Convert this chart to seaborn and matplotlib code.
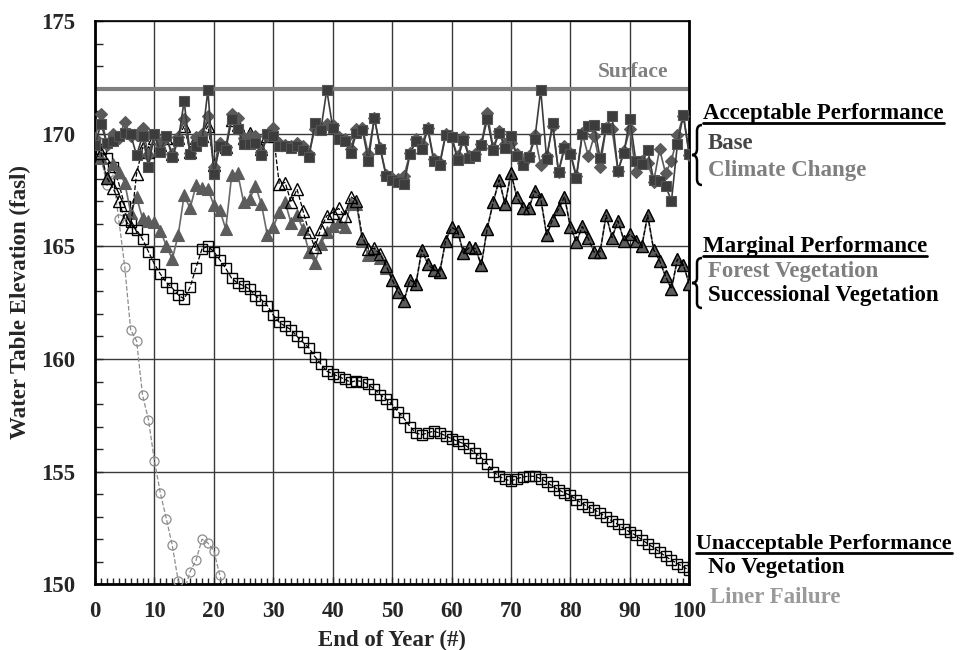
import matplotlib
matplotlib.use("Agg")
import matplotlib.pyplot as plt
import seaborn as sns
from matplotlib.ticker import MultipleLocator
from matplotlib.path import Path
from matplotlib.patches import PathPatch
from matplotlib.lines import Line2D

# ---------------------------------------------------------
# Data
# ---------------------------------------------------------
years = list(range(0, 101))
liner_years = list(range(0, 23))
surface_level = 172.0

base = [169.50, 170.42, 169.60, 169.68, 169.90, 170.05, 169.97, 169.04, 169.90, 168.54,
        169.97, 169.19, 169.90, 168.98, 169.68, 171.45, 169.09, 169.46, 169.68, 171.94,
        168.20, 169.46, 169.28, 170.64, 170.20, 169.53, 169.53, 169.60, 169.04, 169.97,
        169.90, 169.46, 169.46, 169.38, 169.46, 169.28, 168.98, 170.46, 170.17, 171.94,
        170.27, 169.75, 169.68, 169.13, 170.05, 170.17, 168.79, 170.71, 169.31, 168.10,
        167.95, 167.86, 167.76, 169.09, 169.68, 169.31, 170.20, 168.79, 168.60, 169.93,
        169.87, 168.84, 169.72, 168.90, 169.01, 169.49, 170.64, 169.28, 170.05, 169.36,
        169.90, 169.01, 168.60, 168.98, 169.75, 171.94, 168.87, 170.46, 168.30, 169.35,
        169.09, 168.05, 169.97, 170.34, 170.37, 168.90, 170.27, 170.79, 168.35, 169.16,
        170.67, 168.79, 168.64, 169.28, 167.95, 167.91, 167.68, 167.02, 169.53, 170.82,
        169.09]

climate = [169.80, 170.86, 169.50, 169.97, 169.80, 170.52, 169.90, 169.95, 170.27, 169.04,
           169.93, 169.53, 169.83, 169.10, 169.83, 170.67, 169.12, 169.83, 169.97, 170.79,
           168.50, 169.60, 169.40, 170.86, 170.71, 169.80, 169.90, 169.90, 169.20, 169.90,
           170.27, 169.60, 169.50, 169.45, 169.60, 169.45, 169.09, 170.20, 170.20, 170.42,
           170.37, 169.83, 169.75, 169.31, 170.20, 170.27, 169.09, 170.71, 169.38, 168.16,
           168.05, 167.98, 168.13, 169.13, 169.75, 169.53, 170.27, 168.87, 168.69, 169.97,
           169.83, 169.01, 169.83, 169.01, 169.09, 169.53, 170.93, 169.38, 170.12, 169.53,
           169.60, 169.09, 168.72, 169.01, 169.93, 168.60, 169.01, 170.34, 168.30, 169.46,
           169.16, 168.13, 170.02, 169.01, 169.90, 168.54, 170.27, 170.20, 168.35, 169.23,
           170.20, 168.28, 168.79, 168.72, 167.86, 169.31, 168.25, 168.79, 169.93, 170.80,
           169.04]

forest = [169.70, 168.90, 168.05, 168.64, 168.28, 167.83, 166.50, 167.17, 166.24, 166.13,
          166.06, 165.69, 165.02, 164.43, 165.50, 167.27, 166.68, 167.71, 167.61, 167.54,
          166.83, 166.62, 165.76, 168.16, 168.25, 166.97, 167.09, 167.68, 166.87, 165.50,
          165.84, 166.53, 166.95, 166.03, 166.38, 165.76, 164.76, 164.26, 165.10, 165.65,
          165.91, 166.06, 165.84, 166.87, 166.87, 165.25, 164.60, 164.75, 164.50, 164.05,
          163.52, 162.99, 162.59, 163.52, 163.33, 164.85, 164.21, 163.96, 163.84, 165.25,
          165.84, 165.69, 164.70, 164.95, 164.91, 164.17, 165.79, 166.95, 167.95, 166.87,
          168.25, 167.17, 166.72, 166.68, 167.46, 167.12, 165.50, 166.18, 166.65, 167.21,
          165.84, 165.20, 165.88, 165.35, 164.73, 164.76, 166.38, 165.39, 166.13, 165.25,
          165.54, 165.25, 165.00, 166.38, 164.85, 164.36, 163.67, 163.10, 164.43, 164.17,
          163.33]

successional = [169.70, 169.16, 168.05, 167.60, 167.02, 166.20, 165.84, 168.23, 169.38, 169.20,
                169.80, 169.50, 169.80, 169.10, 169.80, 170.34, 169.20, 169.80, 169.90, 170.34,
                168.60, 169.50, 169.40, 170.60, 170.40, 169.80, 170.05, 169.80, 169.30, 169.90,
                170.05, 167.76, 167.83, 166.95, 167.54, 166.58, 165.62, 164.95, 165.79, 166.35,
                166.50, 166.68, 166.35, 167.21, 167.02, 165.39, 164.88, 164.91, 164.66, 164.14,
                163.52, 162.99, 162.59, 163.52, 163.33, 164.85, 164.21, 163.96, 163.84, 165.25,
                165.84, 165.69, 164.70, 164.95, 164.91, 164.17, 165.79, 166.95, 167.95, 166.87,
                168.25, 167.17, 166.72, 166.68, 167.46, 167.12, 165.50, 166.18, 166.65, 167.21,
                165.84, 165.20, 165.88, 165.35, 164.73, 164.76, 166.38, 165.39, 166.13, 165.25,
                165.54, 165.25, 165.00, 166.38, 164.85, 164.36, 163.67, 163.10, 164.43, 164.17,
                163.33]

no_vegetation = [169.60, 169.30, 168.94, 168.50, 167.80, 166.80, 166.06, 165.73, 165.32, 164.76,
                 164.21, 163.77, 163.40, 163.15, 162.85, 162.66, 163.18, 164.06, 164.88, 165.00,
                 164.76, 164.40, 164.02, 163.58, 163.37, 163.25, 163.10, 162.81, 162.63, 162.37,
                 161.95, 161.63, 161.45, 161.30, 161.00, 160.74, 160.49, 160.10, 159.78, 159.46,
                 159.34, 159.22, 159.10, 158.97, 159.04, 159.00, 158.87, 158.66, 158.42, 158.22,
                 157.98, 157.66, 157.36, 157.00, 156.71, 156.64, 156.72, 156.80, 156.71, 156.59,
                 156.46, 156.35, 156.24, 156.03, 155.82, 155.62, 155.35, 155.00, 154.79, 154.66,
                 154.58, 154.69, 154.76, 154.80, 154.79, 154.69, 154.54, 154.35, 154.20, 154.05,
                 153.95, 153.75, 153.58, 153.43, 153.31, 153.16, 152.99, 152.81, 152.66, 152.47,
                 152.32, 152.17, 151.98, 151.80, 151.63, 151.43, 151.24, 151.07, 150.92, 150.77,
                 150.62]

liner_failure = [169.70, 169.00, 167.70, 168.20, 166.20, 164.10, 161.30, 160.80, 158.40, 157.30,
                 155.48, 154.05, 152.91, 151.73, 150.15, 149.70, 150.56, 151.06, 152.00, 151.83,
                 151.48, 150.40, 149.60]

# ---------------------------------------------------------
# Style
# ---------------------------------------------------------
sns.set_theme(style="white")
plt.rcParams["font.family"] = ["Liberation Serif", "DejaVu Serif"]
plt.rcParams["font.weight"] = "bold"
FS = 16.5

W, H = 961, 650
fig = plt.figure(figsize=(W / 100, H / 100), dpi=100)
ax = fig.add_axes([95 / W, 1 - 584.3 / H, (689.3 - 95) / W, (584.3 - 21) / H])


def fx(x):
    return x / W


def fy(y):
    return 1 - y / H


# ---------------------------------------------------------
# Series
# ---------------------------------------------------------
common = dict(ax=ax, errorbar=None, legend=False)

sns.lineplot(x=liner_years, y=liner_failure, color="#8c8c8c", linestyle="--", linewidth=0.9,
             marker="o", markersize=6.5, markerfacecolor="none", markeredgecolor="#8c8c8c",
             markeredgewidth=0.9, zorder=3, **common)
sns.lineplot(x=years, y=no_vegetation, color="black", linestyle="--", linewidth=0.9,
             marker="s", markersize=7.5, markerfacecolor="none", markeredgecolor="black",
             markeredgewidth=1.0, zorder=4, **common)
sns.lineplot(x=years, y=forest, color="#6a6a6a", linestyle="-", linewidth=1.2,
             marker="^", markersize=8, markerfacecolor="#5c5c5c", markeredgecolor="#5c5c5c",
             markeredgewidth=0.8, zorder=5, **common)
sns.lineplot(x=years, y=successional, color="black", linestyle="--", linewidth=0.9,
             marker="^", markersize=8, markerfacecolor="none", markeredgecolor="black",
             markeredgewidth=1.0, zorder=6, **common)
sns.lineplot(x=years, y=climate, color="#5a5a5a", linestyle="-", linewidth=1.2,
             marker="D", markersize=6.5, markerfacecolor="#5a5a5a", markeredgecolor="#5a5a5a",
             markeredgewidth=0.8, zorder=7, **common)
sns.lineplot(x=years, y=base, color="#3c3c3c", linestyle="-", linewidth=1.2,
             marker="s", markersize=7.5, markerfacecolor="#3c3c3c", markeredgecolor="#555555",
             markeredgewidth=0.8, zorder=8, **common)

ax.axhline(surface_level, color="#7f7f7f", linewidth=3, zorder=2)
ax.text(96.5, surface_level + 0.3, "Surface", color="#808080", fontsize=15.5,
        fontweight="bold", ha="right", va="bottom")

# ---------------------------------------------------------
# Axes
# ---------------------------------------------------------
ax.set_xlim(0, 100)
ax.set_ylim(150, 175)
ax.xaxis.set_major_locator(MultipleLocator(10))
ax.xaxis.set_minor_locator(MultipleLocator(1))
ax.yaxis.set_major_locator(MultipleLocator(5))
ax.yaxis.set_minor_locator(MultipleLocator(1))
ax.grid(True, which="major", color="#3a3a3a", linewidth=1)
ax.set_axisbelow(True)
ax.tick_params(axis="y", which="major", direction="in", length=6, width=1, pad=14,
               labelsize=FS, left=True)
ax.tick_params(axis="y", which="minor", direction="in", length=6, width=1, left=True)
ax.tick_params(axis="x", which="major", direction="in", length=5, width=1, pad=12,
               labelsize=FS, bottom=True)
ax.tick_params(axis="x", which="minor", direction="in", length=4, width=1, bottom=True)
for lab in ax.get_xticklabels() + ax.get_yticklabels():
    lab.set_fontweight("bold")
for side in ["left", "bottom", "right"]:
    ax.spines[side].set_color("black")
    ax.spines[side].set_linewidth(2)
ax.spines["top"].set_color("black")
ax.spines["top"].set_linewidth(1.2)
ax.set_xlabel("")
ax.set_ylabel("")

fig.text(fx(20), fy(302), "Water Table Elevation (fasl)", rotation=90, fontsize=FS,
         fontweight="bold", ha="center", va="center")
fig.text(fx(392), fy(640), "End of Year (#)", fontsize=FS, fontweight="bold",
         ha="center", va="center")

# ---------------------------------------------------------
# Side legend (text + braces)
# ---------------------------------------------------------
def header(x, y, s, size=FS):
    t = fig.text(fx(x), fy(y), s, fontsize=size, fontweight="bold", color="black",
                 ha="left", va="baseline")
    fig.canvas.draw()
    bb = t.get_window_extent()
    fig.add_artist(Line2D([bb.x0 / W, bb.x1 / W], [fy(y + 4), fy(y + 4)], color="black",
                          linewidth=2, transform=fig.transFigure))


def entry(x, y, s, color):
    fig.text(fx(x), fy(y), s, fontsize=FS, fontweight="bold", color=color,
             ha="left", va="baseline")


def brace(x_tip, y_top, y_bot, width=10):
    xm = x_tip + width / 2
    xe = x_tip + width
    ym = (y_top + y_bot) / 2
    d = (y_bot - y_top) * 0.1
    verts = [(xe, y_top), (xm, y_top), (xm, y_top + d), (xm, ym - d), (xm, ym), (x_tip, ym),
             (xm, ym), (xm, ym + d), (xm, y_bot - d), (xm, y_bot), (xe, y_bot)]
    codes = [Path.MOVETO, Path.CURVE3, Path.CURVE3, Path.LINETO, Path.CURVE3, Path.CURVE3,
             Path.CURVE3, Path.CURVE3, Path.LINETO, Path.CURVE3, Path.CURVE3]
    verts = [(fx(a), fy(b)) for a, b in verts]
    fig.add_artist(PathPatch(Path(verts, codes), facecolor="none", edgecolor="black",
                             linewidth=1.8, transform=fig.transFigure))


header(703, 119, "Acceptable Performance")
entry(708, 149, "Base", "#454545")
entry(708, 176, "Climate Change", "#7f7f7f")
brace(692, 125, 185)

header(703, 252, "Marginal Performance")
entry(708, 277, "Forest Vegetation", "#7f7f7f")
entry(708, 301, "Successional Vegetation", "black")
brace(692, 258, 308)

header(696, 549, "Unacceptable Performance", size=15.8)
entry(708, 573, "No Vegetation", "black")
entry(710, 603, "Liner Failure", "#9a9a9a")

fig.savefig("out.png", dpi=100)
